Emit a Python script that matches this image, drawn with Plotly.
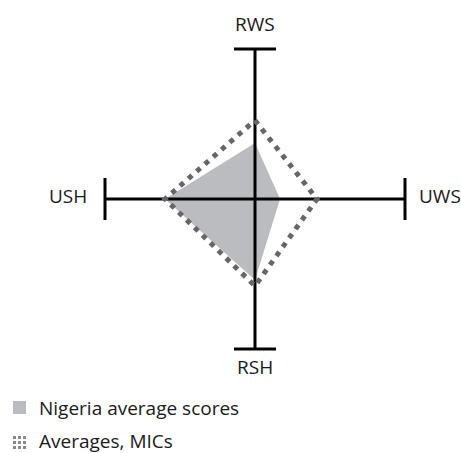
import plotly.graph_objects as go
import math

axes_labels = ["RWS", "UWS", "RSH", "USH"]
angles_deg = [90, 0, -90, 180]
nigeria = [0.373, 0.167, 0.54, 0.60]
averages_mic = [0.524, 0.413, 0.58, 0.60]
series_names = ["Nigeria average scores", "Averages, MICs"]

W, H = 461, 453
cx, cy = 255, 199
scale = 150.0

def to_xy(vals):
    xs, ys = [], []
    for v, a in zip(vals, angles_deg):
        xs.append(v * math.cos(math.radians(a)))
        ys.append(v * math.sin(math.radians(a)))
    xs.append(xs[0]); ys.append(ys[0])
    return xs, ys

fig = go.Figure()
nx, ny = to_xy(nigeria)
fig.add_trace(go.Scatter(x=nx, y=ny, mode="lines", fill="toself",
                         fillcolor="#bbbcc0", line=dict(width=0, color="#bbbcc0"),
                         name=series_names[0], showlegend=False, hoverinfo="skip"))

cap = 0.14
for a in angles_deg:
    ex, ey = math.cos(math.radians(a)), math.sin(math.radians(a))
    fig.add_trace(go.Scatter(x=[0, ex], y=[0, ey], mode="lines",
                             line=dict(color="black", width=3), showlegend=False, hoverinfo="skip"))
    px, py = -ey, ex
    fig.add_trace(go.Scatter(x=[ex - px * cap, ex + px * cap], y=[ey - py * cap, ey + py * cap],
                             mode="lines", line=dict(color="black", width=3),
                             showlegend=False, hoverinfo="skip"))

ax_, ay_ = to_xy(averages_mic)
fig.add_trace(go.Scatter(x=ax_, y=ay_, mode="lines",
                         line=dict(color="#666666", width=5, dash="5px,6px"),
                         name=series_names[1], showlegend=False, hoverinfo="skip"))

font = dict(family="Open Sans", size=19, color="#1a1a1a")
def dpx(x):
    return (x - cx) / scale
def dpy(y):
    return (cy - y) / scale

fig.add_annotation(x=0, y=dpy(24), text=axes_labels[0], showarrow=False, font=font,
                   xanchor="center", yanchor="middle")
fig.add_annotation(x=dpx(417), y=dpy(196), text=axes_labels[1], showarrow=False, font=font,
                   xanchor="left", yanchor="middle")
fig.add_annotation(x=0, y=dpy(367), text=axes_labels[2], showarrow=False, font=font,
                   xanchor="center", yanchor="middle")
fig.add_annotation(x=dpx(89), y=dpy(196), text=axes_labels[3], showarrow=False, font=font,
                   xanchor="right", yanchor="middle")

def px2paper(x, y):
    return x / W, 1 - y / H

shapes = []
x0, y0 = px2paper(13, 401)
x1, y1 = px2paper(26, 414)
shapes.append(dict(type="rect", xref="paper", yref="paper", x0=x0, y0=y1, x1=x1, y1=y0,
                   fillcolor="#bbbcc0", line=dict(width=0)))
for i in range(3):
    for j in range(3):
        dx = 13 + i * 5
        dy = 436 + j * 5
        a0, b0 = px2paper(dx, dy)
        a1, b1 = px2paper(dx + 3, dy + 3)
        shapes.append(dict(type="rect", xref="paper", yref="paper", x0=a0, y0=b1, x1=a1, y1=b0,
                           fillcolor="#888888", line=dict(width=0)))
fig.update_layout(shapes=shapes)

for k, yy in enumerate([408, 441]):
    lx, ly = px2paper(37, yy)
    fig.add_annotation(x=lx, y=ly, xref="paper", yref="paper", text=series_names[k],
                       showarrow=False, font=font, xanchor="left", yanchor="middle")

fig.update_layout(
    width=W, height=H, margin=dict(l=0, r=0, t=0, b=0),
    paper_bgcolor="white", plot_bgcolor="white",
    xaxis=dict(range=[-cx / scale, (W - cx) / scale], visible=False, fixedrange=True),
    yaxis=dict(range=[-(H - cy) / scale, cy / scale], visible=False, fixedrange=True),
    showlegend=False,
)
fig.write_html("out.html", config={"displayModeBar": False},
               post_script="document.body.style.margin='0';document.body.style.overflow='hidden';")
